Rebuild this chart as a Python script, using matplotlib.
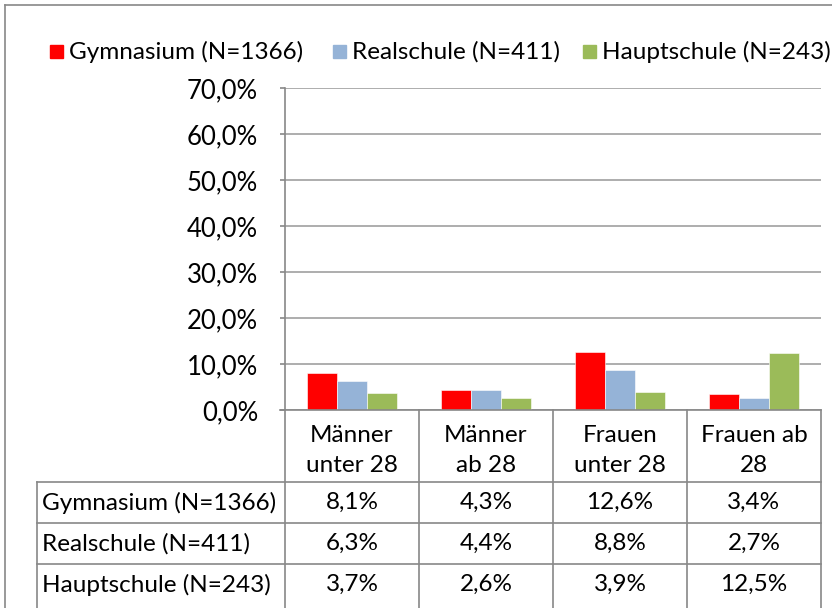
import matplotlib
matplotlib.use("Agg")
import matplotlib.pyplot as plt
from matplotlib.lines import Line2D
from matplotlib.patches import Rectangle
import numpy as np

categories = ["Männer\nunter 28", "Männer\nab 28", "Frauen\nunter 28", "Frauen ab\n28"]
series_names = ["Gymnasium (N=1366)", "Realschule (N=411)", "Hauptschule (N=243)"]
gymnasium = [8.1, 4.3, 12.6, 3.4]
realschule = [6.3, 4.4, 8.8, 2.7]
hauptschule = [3.7, 2.6, 3.9, 12.5]
colors = ["#FF0000", "#95B3D7", "#9BBB59"]
yticks = [0, 10, 20, 30, 40, 50, 60, 70]

W, H = 832, 608
plt.rcParams['font.family'] = ['Lato', 'DejaVu Sans']
FS = 17.5
FST = 18.5
fig = plt.figure(figsize=(W / 100, H / 100), dpi=100)

def fx(x):
    return x / W

def fy(y):
    return 1 - y / H

GRAY = "#888888"

# axes
L, R, T, B = 285, 821, 88, 410
ax = fig.add_axes([fx(L), fy(B), fx(R - L), (B - T) / H])
data = [gymnasium, realschule, hauptschule]
x = np.arange(len(categories))
bw = 30 / 134
for i, (vals, c) in enumerate(zip(data, colors)):
    ax.bar(x + (i - 1) * bw, vals, width=bw, color=c, edgecolor="white", linewidth=0.4, zorder=3)
ax.set_xlim(-0.5, len(categories) - 0.5)
ax.set_ylim(0, 70)
ax.set_yticks(yticks)
ax.set_yticklabels([f"{v:.1f}%".replace(".", ",") for v in yticks], fontsize=FST)
ax.yaxis.grid(True, color="#A0A0A0", linewidth=1.2, zorder=0)
ax.set_xticks([])
for s in ["top", "right", "bottom"]:
    ax.spines[s].set_visible(False)
ax.spines["left"].set_color(GRAY)
ax.spines["left"].set_linewidth(1.2)
ax.tick_params(axis="y", length=3.6, width=1.2, color=GRAY, pad=15.8)

# outer chart border
fig.add_artist(Line2D([fx(5), fx(5)], [fy(5), fy(620)], color=GRAY, lw=1.2))
fig.add_artist(Line2D([fx(5), fx(840)], [fy(5), fy(5)], color=GRAY, lw=1.2))

# legend
leg_x = [50, 333, 583]
for name, c, lx in zip(series_names, colors, leg_x):
    fig.add_artist(Rectangle((fx(lx), fy(58)), 13 / W, 13 / H, color=c, transform=fig.transFigure))
    fig.text(fx(lx + 19), fy(52), name, fontsize=FS, va="center", ha="left")

# data table
cols = [285, 419, 553, 687, 821]
rows = [410, 482, 523, 564, 605]
lw = 1.2
fig.add_artist(Line2D([fx(280), fx(821)], [fy(410), fy(410)], color=GRAY, lw=lw))
for cx in cols:
    fig.add_artist(Line2D([fx(cx), fx(cx)], [fy(410), fy(620)], color=GRAY, lw=lw))
fig.add_artist(Line2D([fx(37), fx(37)], [fy(482), fy(620)], color=GRAY, lw=lw))
for ry in rows[1:4]:
    fig.add_artist(Line2D([fx(37), fx(821)], [fy(ry), fy(ry)], color=GRAY, lw=lw))

for j, cat in enumerate(categories):
    cxm = (cols[j] + cols[j + 1]) / 2
    l1, l2 = cat.split("\n")
    fig.text(fx(cxm), fy(435), l1, fontsize=FS, ha="center", va="center")
    fig.text(fx(cxm), fy(465), l2, fontsize=FS, ha="center", va="center")

for i, (name, vals) in enumerate(zip(series_names, data)):
    ym = (rows[i + 1] + rows[i + 2]) / 2
    fig.text(fx(42), fy(ym), name, fontsize=FS, ha="left", va="center")
    for j, v in enumerate(vals):
        cxm = (cols[j] + cols[j + 1]) / 2
        fig.text(fx(cxm), fy(ym), f"{v:.1f}%".replace(".", ","), fontsize=FS, ha="center", va="center")

fig.savefig("out.png", dpi=100, facecolor="white")
